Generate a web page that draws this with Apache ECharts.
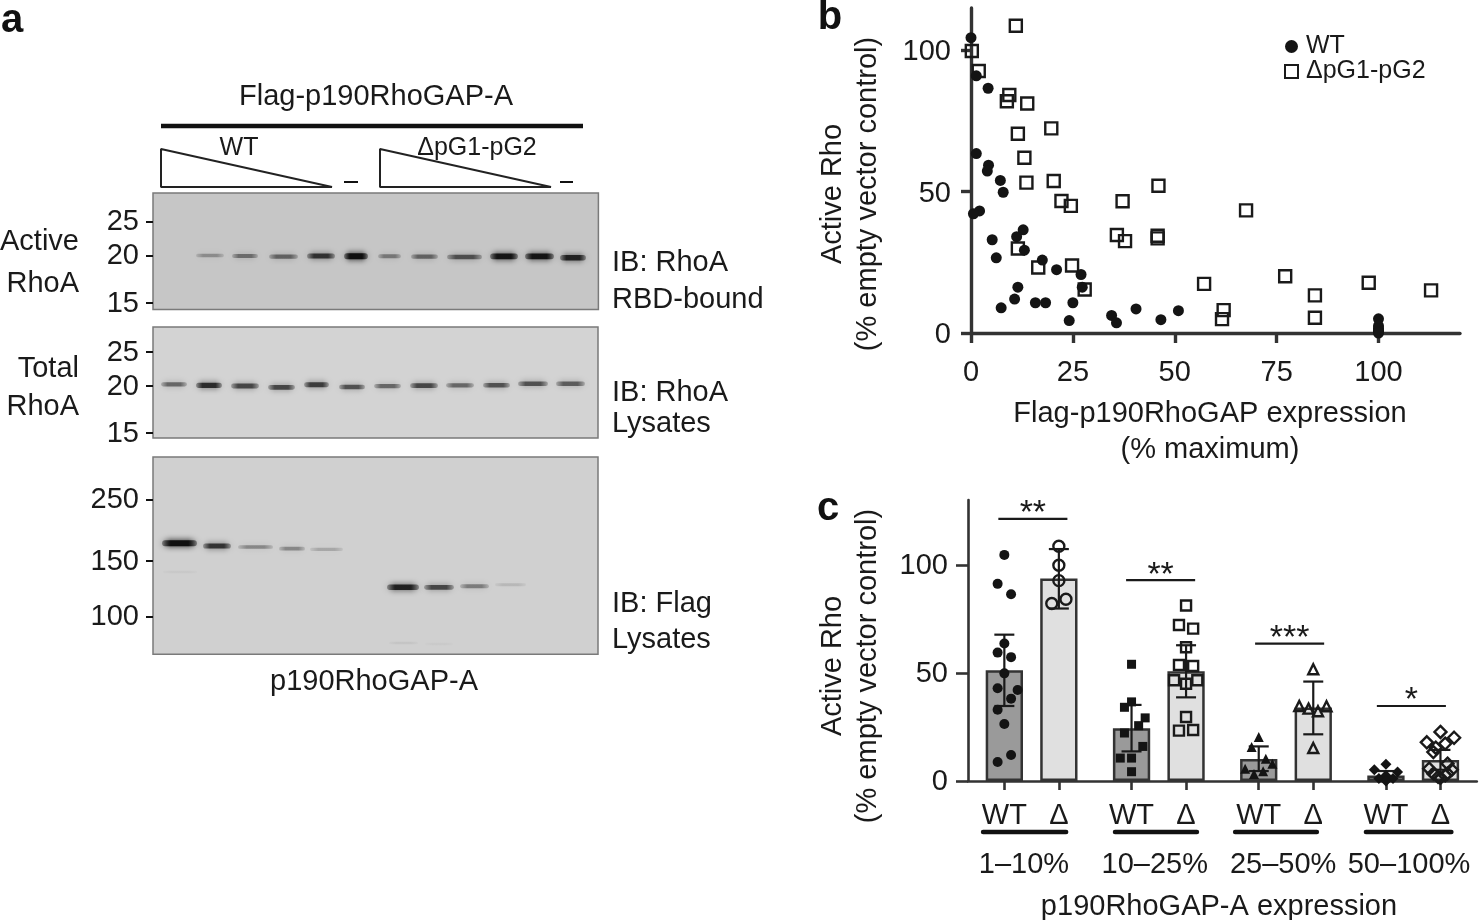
<!DOCTYPE html>
<html>
<head>
<meta charset="utf-8">
<style>html,body{margin:0;padding:0;background:#fff}#c{width:1479px;height:920px}</style>
<script src="https://cdn.jsdelivr.net/npm/echarts@6/dist/echarts.min.js"></script>
</head>
<body>
<div id="c"></div>
<script>
// ---------- panel a: blots (lane start, lane end, migration, intensity) ----------
const activeRhoBands = [[43,71,62.5,.3],[79,105,63,.45],[116,145,63.7,.5],[154,182,63,.75],[191,215,63.3,1],[225,248,63.3,.4],[258,285,63.7,.5],[294,329,64,.6],[337,365,63.3,.95],[372,401,63.3,.95],[407,433,64.7,.85]];
const totalRhoBands = [[8,34,57.3,.5],[43,69,58.3,.8],[78,106,59,.65],[115,142,60.3,.65],[151,176,57.7,.7],[186,212,60,.6],[221,248,59,.5],[257,285,58.7,.65],[293,321,58.3,.5],[330,357,58.3,.6],[365,395,56.7,.6],[403,432,56.7,.55]];
const flagBands = [[9,44,86.3,1],[50,78,89,.75],[85,120,90,.35],[126,152,91.7,.35],[157,190,92.3,.2],[234,266,130.3,.85],[271,301,130.3,.65],[307,336,129.3,.4],[342,373,127.7,.12],[10,44,115,.04],[236,265,186,.06],[272,300,187,.03]];
const activeRhoMarkers = [[28.3,'25'],[62.3,'20'],[109.7,'15']];
const totalRhoMarkers = [[25,'25'],[59,'20'],[106,'15']];
const flagMarkers = [[42.3,'250'],[103.7,'150'],[159.3,'100']];

// ---------- panel b ----------
const wtScatter = [[0,104.5],[1.3,91],[4.2,86.6],[1.3,63.5],[4.3,59.4],[4,57.3],[7.2,54],[7.9,49.8],[2.1,43.2],[0.6,42.2],[12.8,36.5],[11.2,34.1],[5.2,33],[13.1,29.3],[6.2,26.6],[17.5,25.8],[21,22.4],[27,20.7],[27.3,16.2],[11.5,16.2],[10.7,12],[7.4,8.9],[15.8,10.7],[18.3,10.7],[25,10.7],[24.1,4.4],[34.5,6.2],[35.7,3.6],[40.5,8.5],[46.6,4.7],[50.9,7.9],[100,5],[100,2.5],[100,1.5],[100,1],[100,0.5],[100,0]];
const deltaScatter = [[11,108.7],[0.2,99.8],[1.9,92.7],[9.4,84.2],[8.8,82],[13.8,81.2],[19.7,72.4],[11.5,70.5],[13.1,62],[13.6,53.2],[20.3,53.8],[22.2,46.7],[24.5,45],[37.2,46.6],[46,52.1],[67.5,43.4],[35.8,34.7],[37.8,32.5],[45.8,34.4],[45.8,33.5],[11.5,29.9],[16.5,23.2],[24.8,23.9],[27.9,15.4],[57.2,17.4],[62,8.1],[61.6,4.9],[77.1,20.1],[84.4,13.3],[84.4,5.4],[97.6,17.8],[112.9,15.1]];
const scatterXTicks = [0,25,50,75,100];
const activeRhoTicks = [0,50,100];

// ---------- panel c ----------
const barSlots = [0,3,7,10,14,17,21,24];
const barNames = ['WT','Δ','WT','Δ','WT','Δ','WT','Δ'];
const barMeans = [51.2,93.7,24.4,50.8,10.2,34,2.5,9.7];
const barErrHigh = [67.7,107.3,35.2,62.8,16,46,4.6,14.4];
const barErrLow = [34.7,79.8,13.7,38.7,4.6,21.6,0.6,5.2];
const pts1 = [[0,104.6],[-.37,91.2],[.37,86.4],[0,63.6],[-.37,59.4],[.37,57.3],[0,49.8],[-.37,42.9],[.73,42.1],[.37,38.1],[-.37,33],[0,26.4],[.37,12],[-.37,8.8]];
const pts2 = [[0,108.6],[0,99.8],[0,92.7],[.39,84.1],[-.39,82.1]];
const pts3 = [[0,54],[0,36.6],[-.39,34.1],[.75,29.2],[.39,25.6],[-.39,22.2],[.62,16],[-.62,10.6],[0,10.6],[0,4.3]];
const pts4 = [[0,81.2],[-.39,72.2],[.39,70.5],[0,61.9],[-.39,53.7],[.39,53.2],[-.66,46.6],[.62,46.6],[0,45],[0,29.6],[-.39,23.3],[.39,23.6]];
const pts5 = [[0,20.4],[-.39,15.7],[.39,10.3],[.75,8],[-.75,5.7],[.24,4.5],[-.26,3.2]];
const pts6 = [[0,51.7],[-.77,34.7],[-.26,33.5],[.73,34.6],[.26,32.3],[0,15.3]];
const pts7 = [[0,7.7],[-.64,5.2],[.64,4.2],[0,2.5],[-.39,1.1],[0,.6],[.39,1.1],[0,0]];
const pts8 = [[0,22.7],[.75,20],[-.75,17.9],[.26,17.3],[-.26,15.4],[-.39,13.4],[.39,8],[-.62,5.7],[.62,5.2],[-.39,3.4],[-.13,1.9],[.26,2.6],[0,1.5],[.39,3.4]];
const sigBrackets = [[-.33,3.47,121.3],[6.7,10.5,92.9],[13.8,17.6,63.6],[20.5,24.3,34.7]];
const sigStars = ['**','**','***','*'];
const groupSpans = [[-1.17,3.4,1.08],[6.09,10.6,8.28],[12.7,17.2,15.34],[19.9,24.6,22.27]];
const groupNames = ['1–10%','10–25%','25–50%','50–100%'];

const FONT = '"Liberation Sans", Arial, sans-serif';
const INK = '#1a1a1a';
const AX = '#333';

function bandRender(params, api) {
  const a = api.coord([api.value(0), api.value(2)]);
  const b = api.coord([api.value(1), api.value(2)]);
  const v = api.value(3);
  const h = 2.5 + 3.5 * v;
  const ends = 'rgba(15,15,15,' + (v * 0.35) + ')';
  const mid = 'rgba(15,15,15,' + v + ')';
  const fill = {type:'linear', x:0, y:0, x2:1, y2:0, colorStops:[{offset:0,color:ends},{offset:.25,color:mid},{offset:.75,color:mid},{offset:1,color:ends}]};
  return {type:'rect', shape:{x:a[0], y:a[1]-h/2, width:b[0]-a[0], height:h, r:h/2},
    style:{fill, shadowBlur:6, shadowColor:'rgba(15,15,15,' + (v*0.9) + ')'}, silent:true};
}
function blotGrid(left, top, width, height, bg) {
  return {left, top, width, height, show:true, backgroundColor:bg, borderColor:'#7a7a7a', borderWidth:1.5};
}
function blotY(idx, height, markers) {
  const pos = markers.map(m => m[0]);
  return {type:'value', gridIndex:idx, min:0, max:height, inverse:true, splitLine:{show:false}, axisLine:{show:false},
    axisTick:{show:true, length:7, lineStyle:{color:'#111', width:2}, customValues:pos},
    axisLabel:{show:true, customValues:pos, margin:14, color:INK, fontSize:29, fontFamily:FONT, verticalAlign:'top', lineHeight:2,
      formatter:v => { const m = markers.find(k => k[0] === v); return m ? m[1] : ''; }}};
}
function blotX(idx, width) {
  return {type:'value', gridIndex:idx, min:0, max:width, show:false};
}
function bandSeries(idx, data, name) {
  return {type:'custom', name, xAxisIndex:idx, yAxisIndex:idx, renderItem:bandRender, data, silent:true,
    encode:{x:[0,1], y:2}, tooltip:{show:false}};
}
const T = (text, x, y, size, extra) => ({type:'text', x, y:y + ((extra&&(extra.bold||extra.rot))?0:2), silent:true, rotation:(extra&&extra.rot)||0,
  style:{text, fontSize:size, fontFamily:FONT, fontWeight:(extra&&extra.bold)?'bold':'normal', fill:(extra&&extra.fill)||INK,
    align:(extra&&extra.align)||'center', verticalAlign:'middle'}});
const L = (x1,y1,x2,y2,w,c) => ({type:'line', silent:true, shape:{x1,y1,x2,y2}, style:{stroke:c||'#111', lineWidth:w}});
const P = (pts) => ({type:'polygon', silent:true, shape:{points:pts}, style:{fill:'none', stroke:'#222', lineWidth:2, lineJoin:'bevel'}});

const graphics = [
  T('a', 12, 21, 40, {bold:true, fill:'#111'}),
  T('b', 830, 18, 40, {bold:true, fill:'#111'}),
  T('c', 828, 509, 40, {bold:true, fill:'#111'}),
  T('Flag-p190RhoGAP-A', 376, 95, 29),
  L(161,126,583,126,4.5),
  T('WT', 239, 146, 25),
  T('ΔpG1-pG2', 477, 146, 25),
  P([[161,149],[161,187],[332,187]]),
  P([[380,149],[380,187],[551,187]]),
  L(344,182,358,182,2), L(560,182,573,182,2),
  T('Active', 79, 240, 29, {align:'right'}),
  T('RhoA', 79, 282, 29, {align:'right'}),
  T('Total', 79, 367, 29, {align:'right'}),
  T('RhoA', 79, 405, 29, {align:'right'}),
  T('IB: RhoA', 612, 261, 29, {align:'left'}),
  T('RBD-bound', 612, 298, 29, {align:'left'}),
  T('IB: RhoA', 612, 391, 29, {align:'left'}),
  T('Lysates', 612, 422, 29, {align:'left'}),
  T('IB: Flag', 612, 602, 29, {align:'left'}),
  T('Lysates', 612, 638, 29, {align:'left'}),
  T('p190RhoGAP-A', 374, 680, 29),
  T('Active Rho', 833, 194, 29, {rot:Math.PI/2}),
  T('(% empty vector control)', 868, 194, 29, {rot:Math.PI/2}),
  T('Flag-p190RhoGAP expression', 1210, 412, 29),
  T('(% maximum)', 1210, 448, 29),
  T('Active Rho', 833, 666, 29, {rot:Math.PI/2}),
  T('(% empty vector control)', 868, 666, 29, {rot:Math.PI/2}),
  T('p190RhoGAP-A expression', 1219, 905, 29)
];

const thick = {lineStyle:{color:AX, width:3.4}};
const thin = {lineStyle:{color:AX, width:2.6}};
const ptStyle = (open) => open
  ? {color:'rgba(255,255,255,0)', borderColor:'#1a1a1a', borderWidth:2.4, opacity:1}
  : {color:'#141414', opacity:1};
const groupSym = [['circle',10,false],['circle',11,true],['rect',9,false],['rect',10,true],['triangle',10,false],['triangle',10,true],['diamond',11,false],['diamond',12,true]];
const allPts = [pts1,pts2,pts3,pts4,pts5,pts6,pts7,pts8];

const option = {
  animation:false,
  textStyle:{fontFamily:FONT},
  graphic:{elements:graphics},
  legend:{data:[{name:'WT', icon:'circle'},{name:'ΔpG1-pG2', icon:'rect'}], orient:'vertical', left:1279, top:29, itemWidth:13, itemHeight:13, itemGap:0,
    selectedMode:false, textStyle:{fontSize:25, color:INK, fontFamily:FONT, padding:[2,0,0,3]}},
  grid:[
    blotGrid(153,193,445.4,116.6,'#c6c6c6'),
    blotGrid(153,327,445,111,'#d3d3d3'),
    blotGrid(153,457,445,197.3,'#d0d0d0'),
    {left:971, top:8, width:489, height:325, show:false},
    {left:968, top:500, width:508.8, height:281, show:false}
  ],
  xAxis:[
    blotX(0,445.4), blotX(1,445), blotX(2,445),
    {type:'value', gridIndex:3, min:0, max:120, splitLine:{show:false}, axisLine:thick,
      axisTick:{show:true, length:10, customValues:scatterXTicks, ...thick},
      axisLabel:{customValues:scatterXTicks, fontSize:29, color:INK, fontFamily:FONT, margin:25}},
    {type:'value', gridIndex:4, min:-2, max:26, splitLine:{show:false}, axisLine:thin,
      axisTick:{show:true, length:9, customValues:barSlots, ...thin},
      axisLabel:{customValues:barSlots, fontSize:29, color:INK, fontFamily:FONT, margin:20,
        formatter:v => barNames[barSlots.indexOf(v)] || ''}}
  ],
  yAxis:[
    blotY(0,116.6,activeRhoMarkers), blotY(1,111,totalRhoMarkers), blotY(2,197.3,flagMarkers),
    {type:'value', gridIndex:3, min:0, max:115, splitLine:{show:false}, axisLine:{show:true, onZero:false, ...thick},
      axisTick:{show:true, length:10, customValues:activeRhoTicks, ...thick},
      axisLabel:{customValues:activeRhoTicks, fontSize:29, color:INK, fontFamily:FONT, margin:20, verticalAlign:'top', lineHeight:4}},
    {type:'value', gridIndex:4, min:0, max:130, splitLine:{show:false}, axisLine:{show:true, onZero:false, ...thin},
      axisTick:{show:true, length:12, customValues:activeRhoTicks, ...thin},
      axisLabel:{customValues:activeRhoTicks, fontSize:29, color:INK, fontFamily:FONT, margin:20, verticalAlign:'top', lineHeight:2}}
  ],
  series:[
    bandSeries(0, activeRhoBands, 'Active RhoA'),
    bandSeries(1, totalRhoBands, 'Total RhoA'),
    bandSeries(2, flagBands, 'Flag'),
    {type:'scatter', name:'ΔpG1-pG2', xAxisIndex:3, yAxisIndex:3, symbol:'rect', symbolSize:12, data:deltaScatter, itemStyle:ptStyle(true), z:3},
    {type:'scatter', name:'WT', xAxisIndex:3, yAxisIndex:3, symbol:'circle', symbolSize:11, data:wtScatter, itemStyle:ptStyle(false), z:4},
    {type:'bar', name:'Mean', xAxisIndex:4, yAxisIndex:4, barWidth:37.3, z:2,
      data:barSlots.map((s,i) => ({value:[s,barMeans[i]], itemStyle:{color:i%2 ? '#e0e0e0' : '#9a9a9a', borderColor:AX, borderWidth:2.5}}))},
    {type:'custom', name:'SD', xAxisIndex:4, yAxisIndex:4, z:5, silent:true,
      data:barSlots.map((s,i) => [s,barErrLow[i],barErrHigh[i]]), encode:{x:0, y:[1,2]},
      renderItem:(p,api) => {
        const x = api.value(0), lo = api.coord([x,api.value(1)]), hi = api.coord([x,api.value(2)]);
        const st = {stroke:INK, lineWidth:2.2}, cap = 10;
        return {type:'group', children:[
          {type:'line', shape:{x1:lo[0],y1:lo[1],x2:hi[0],y2:hi[1]}, style:st},
          {type:'line', shape:{x1:lo[0]-cap,y1:lo[1],x2:lo[0]+cap,y2:lo[1]}, style:st},
          {type:'line', shape:{x1:hi[0]-cap,y1:hi[1],x2:hi[0]+cap,y2:hi[1]}, style:st}]};
      }},
    ...allPts.map((pts,i) => ({type:'scatter', name:'group'+i, xAxisIndex:4, yAxisIndex:4, z:6, symbol:groupSym[i][0], symbolSize:groupSym[i][1],
      data:pts.map(d => [barSlots[i]+d[0], d[1]]), itemStyle:ptStyle(groupSym[i][2])})),
    {type:'custom', name:'Significance', xAxisIndex:4, yAxisIndex:4, z:7, silent:true, data:sigBrackets, encode:{x:[0,1], y:2},
      renderItem:(p,api) => {
        const a = api.coord([api.value(0),api.value(2)]), b = api.coord([api.value(1),api.value(2)]);
        return {type:'group', children:[
          {type:'line', shape:{x1:a[0],y1:a[1],x2:b[0],y2:b[1]}, style:{stroke:INK, lineWidth:2.2}},
          {type:'text', x:(a[0]+b[0])/2, y:a[1]-5, style:{text:sigStars[p.dataIndex], fontSize:34, fontFamily:FONT, fill:INK, align:'center', verticalAlign:'middle'}}]};
      }},
    {type:'custom', name:'Groups', xAxisIndex:4, yAxisIndex:4, z:7, silent:true, data:groupSpans, encode:{x:[0,1,2]},
      renderItem:(p,api) => {
        const a = api.coord([api.value(0),0]), b = api.coord([api.value(1),0]), c = api.coord([api.value(2),0]);
        return {type:'group', children:[
          {type:'line', shape:{x1:a[0],y1:a[1]+51,x2:b[0],y2:a[1]+51}, style:{stroke:'#111', lineWidth:4.5, lineCap:'round'}},
          {type:'text', x:c[0], y:a[1]+84, style:{text:groupNames[p.dataIndex], fontSize:29, fontFamily:FONT, fill:INK, align:'center', verticalAlign:'middle'}}]};
      }}
  ]
};
const chart = echarts.init(document.getElementById('c'), null, {renderer:'canvas', width:1479, height:920});
chart.setOption(option);
</script>
</body>
</html>
